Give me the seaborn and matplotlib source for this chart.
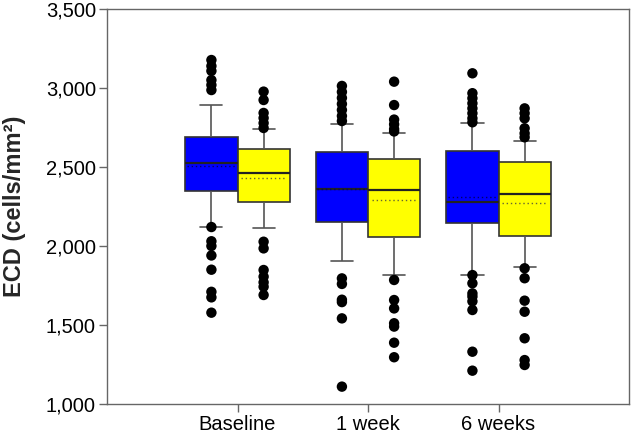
import pandas as pd
import matplotlib
matplotlib.use("Agg")
import matplotlib.pyplot as plt
from matplotlib.ticker import StrMethodFormatter
import seaborn as sns

# === Categories ===
times = ["Baseline", "1 week", "6 weeks"]
groups = ["Group 1", "Group 2"]

# === Box summaries (per time point) ===
blue_whisker_lo = [2120, 1905, 1816]
blue_q1 = [2350, 2150, 2144]
blue_median = [2523, 2361, 2280]
blue_q3 = [2690, 2593, 2601]
blue_whisker_hi = [2892, 2772, 2776]
blue_mean = [2508, 2360, 2312]

yellow_whisker_lo = [2116, 1816, 1869]
yellow_q1 = [2280, 2059, 2063]
yellow_median = [2464, 2354, 2327]
yellow_q3 = [2614, 2551, 2534]
yellow_whisker_hi = [2740, 2715, 2666]
yellow_mean = [2432, 2291, 2270]

# === Outlying points ===
blue_outliers = [
    [3177, 3139, 3108, 3050, 3019, 2987, 2120, 2030, 2000, 1940, 1850, 1710, 1675, 1578],
    [3013, 2975, 2937, 2899, 2861, 2823, 2791, 1795, 1760, 1660, 1645, 1542, 1110],
    [3093, 2967, 2935, 2903, 2871, 2840, 2808, 2783, 1816, 1764, 1700, 1680, 1650, 1595, 1331, 1211],
]
yellow_outliers = [
    [2977, 2924, 2842, 2810, 2778, 2747, 2027, 1985, 1848, 1806, 1770, 1742, 1690],
    [3040, 2892, 2800, 2770, 2740, 2725, 1785, 1658, 1605, 1511, 1490, 1388, 1296],
    [2871, 2840, 2808, 2745, 2713, 2688, 1859, 1796, 1654, 1584, 1416, 1278, 1247],
]

colors = ["#0000ff", "#ffff00"]

# === Build long tables ===
box_rows = []
stats = {
    groups[0]: [blue_whisker_lo, blue_q1, blue_median, blue_q3, blue_whisker_hi],
    groups[1]: [yellow_whisker_lo, yellow_q1, yellow_median, yellow_q3, yellow_whisker_hi],
}
for g, cols in stats.items():
    for i, t in enumerate(times):
        for col in cols:
            box_rows.append({"time": t, "group": g, "ECD": col[i]})
box_df = pd.DataFrame(box_rows)

out_rows = []
for g, outs in zip(groups, [blue_outliers, yellow_outliers]):
    for t, vals in zip(times, outs):
        for v in vals:
            out_rows.append({"time": t, "group": g, "ECD": v})
out_df = pd.DataFrame(out_rows)

# === Plot ===
sns.set_style("ticks")
plt.rcParams["font.family"] = ["Liberation Sans", "DejaVu Sans"]

fig = plt.figure(figsize=(6.32, 4.34), dpi=100)
ax = fig.add_axes([0.1693, 0.0691, 0.8260, 0.9102])

sns.boxplot(
    data=box_df, x="time", y="ECD", hue="group", order=times, hue_order=groups,
    palette=colors, saturation=1, whis=(0, 100), showfliers=False, width=0.8, gap=0,
    linewidth=1.2, linecolor="#333333", legend=False, ax=ax,
    whiskerprops={"color": "#555555"}, capprops={"color": "#555555"},
    medianprops={"color": "#222222", "linewidth": 1.6},
    capwidths=0.17,
)

# mean lines (dotted)
for i in range(len(times)):
    ax.hlines(blue_mean[i], i - 0.39, i - 0.01, colors="#000066",
              linestyles=(0, (1, 2)), linewidth=1.0, zorder=4)
    ax.hlines(yellow_mean[i], i + 0.03, i + 0.37, colors="#666633",
              linestyles=(0, (1, 2)), linewidth=1.0, zorder=4)

sns.stripplot(
    data=out_df, x="time", y="ECD", hue="group", order=times, hue_order=groups,
    dodge=True, jitter=False, palette=["black", "black"], size=7.5,
    linewidth=0, legend=False, ax=ax, zorder=5,
)

ax.set_xlim(-1, 3)
ax.set_ylim(1000, 3500)
ax.set_yticks([1000, 1500, 2000, 2500, 3000, 3500])
ax.yaxis.set_major_formatter(StrMethodFormatter("{x:,.0f}"))
ax.set_xlabel("")
ax.set_ylabel("ECD (cells/mm²)", fontsize=17, fontweight="bold")
ax.yaxis.set_label_coords(-0.155, 0.5)

for s in ax.spines.values():
    s.set_visible(True)
    s.set_color("#666666")
    s.set_linewidth(1.0)
ax.tick_params(direction="out", length=6, width=1, color="#666666",
               labelsize=14.5, labelcolor="black", pad=2)

plt.savefig("out.png", dpi=100)
